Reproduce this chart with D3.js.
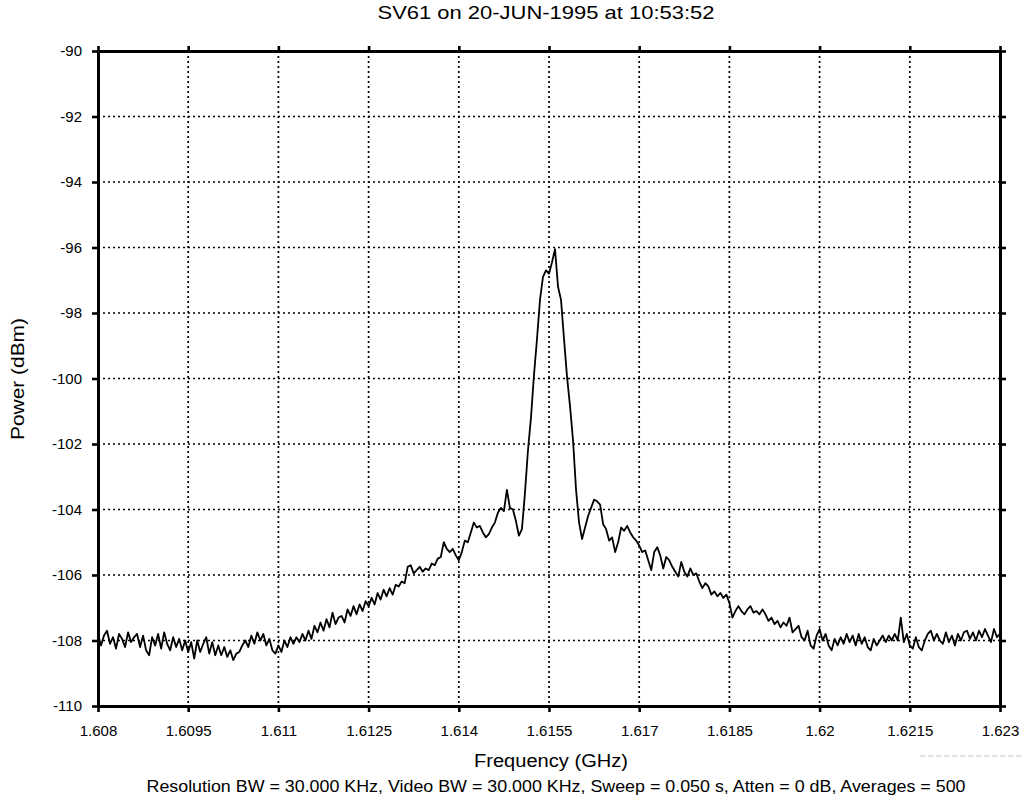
<!DOCTYPE html>
<html>
<head>
<meta charset="utf-8">
<script src="https://cdn.jsdelivr.net/npm/d3@7"></script>
<style>
  html, body { margin: 0; padding: 0; background: #fff; }
  svg text { font-family: "Liberation Sans", Arial, Helvetica, sans-serif; fill: #000; }
</style>
</head>
<body>
<svg id="chart" width="1023" height="797"></svg>
<script>
// ---- data ----
const titleText = "SV61 on 20-JUN-1995 at 10:53:52";
const xAxisTitle = "Frequency (GHz)";
const yAxisTitle = "Power (dBm)";
const noteText = "Resolution BW = 30.000 KHz, Video BW = 30.000 KHz, Sweep = 0.050 s, Atten = 0 dB, Averages = 500";

const xTickValues = [1.608, 1.6095, 1.611, 1.6125, 1.614, 1.6155, 1.617, 1.6185, 1.62, 1.6215, 1.623];
const xTickLabels = ["1.608", "1.6095", "1.611", "1.6125", "1.614", "1.6155", "1.617", "1.6185", "1.62", "1.6215", "1.623"];
const yTickValues = [-90, -92, -94, -96, -98, -100, -102, -104, -106, -108, -110];
const yTickLabels = ["-90", "-92", "-94", "-96", "-98", "-100", "-102", "-104", "-106", "-108", "-110"];

// sweep: start frequency and point spacing (GHz)
const freqStart = 1.608;
const freqStep = 0.00005;

// measured power per sweep point (dBm)
const powerDbm = [
  -107.8, -108.15, -107.85, -107.7, -108.1, -107.9, -108.25, -107.8, -107.95, -108.2,
  -107.75, -108.05, -107.9, -107.8, -108.2, -107.85, -108.3, -108.45, -107.9, -108.15,
  -107.8, -108.25, -107.75, -108.1, -108.3, -107.9, -108.2, -107.95, -108.3, -108.0,
  -108.35, -108.05, -108.55, -108.0, -108.35, -108.1, -107.9, -108.4, -108.05, -108.45,
  -108.15, -108.45, -108.2, -108.5, -108.3, -108.6, -108.4, -108.35, -108.15, -108.0,
  -108.2, -107.85, -108.1, -107.75, -108.0, -107.8, -108.15, -107.95, -108.3, -108.4,
  -108.15, -108.35, -108.0, -108.2, -107.9, -108.1, -107.9, -108.05, -107.8, -108.0,
  -107.7, -107.95, -107.55, -107.75, -107.45, -107.7, -107.35, -107.6, -107.15, -107.5,
  -107.3, -107.25, -107.45, -107.05, -107.25, -106.95, -107.2, -106.9, -107.1, -106.8,
  -106.95, -106.7, -106.9, -106.55, -106.75, -106.45, -106.65, -106.4, -106.6, -106.3,
  -106.35, -106.2, -106.25, -105.75, -105.7, -105.95, -105.85, -105.75, -105.9, -105.8,
  -105.85, -105.65, -105.7, -105.5, -105.45, -105.0, -105.2, -105.3, -105.2, -105.4,
  -105.55, -105.3, -104.95, -105.0, -104.7, -104.4, -104.55, -104.5, -104.7, -104.85,
  -104.75, -104.55, -104.4, -104.1, -103.95, -104.05, -103.4, -103.95, -104.0, -104.35,
  -104.8, -104.6, -103.5, -102.2, -101.2, -99.9, -98.8, -97.6, -96.9, -96.7,
  -96.8, -96.45, -96.05, -97.2, -97.6, -98.8, -99.95, -100.85, -101.9, -103.4,
  -104.4, -104.9, -104.55, -104.2, -103.95, -103.7, -103.75, -103.85, -104.45, -104.6,
  -104.95, -104.85, -105.3, -105.0, -104.55, -104.65, -104.5, -104.7, -104.85, -104.95,
  -105.1, -105.3, -105.25, -105.55, -105.85, -105.3, -105.15, -105.4, -105.8, -105.45,
  -105.55, -105.75, -105.9, -106.05, -105.6, -105.9, -106.05, -105.8, -106.0, -105.95,
  -106.2, -106.4, -106.25, -106.35, -106.6, -106.5, -106.65, -106.55, -106.7, -106.6,
  -106.85, -107.3, -107.1, -106.95, -107.1, -107.2, -107.05, -106.95, -107.15, -107.1,
  -107.2, -107.05, -107.2, -107.4, -107.3, -107.5, -107.4, -107.6, -107.45, -107.55,
  -107.3, -107.75, -107.65, -107.55, -107.9, -108.0, -107.7, -108.15, -108.25, -107.85,
  -107.65, -108.0, -107.8, -108.15, -108.3, -107.95, -108.15, -107.9, -108.1, -107.8,
  -108.05, -107.85, -108.15, -107.8, -108.1, -107.9, -108.2, -108.3, -107.95, -108.15,
  -108.0, -107.85, -108.05, -107.85, -108.0, -107.8, -108.0, -107.3, -108.05, -107.8,
  -108.15, -108.25, -107.9, -108.2, -108.3, -108.0, -107.8, -107.7, -108.0, -107.8,
  -108.0, -108.1, -107.75, -108.05, -107.85, -108.15, -107.8, -108.0, -107.75, -107.7,
  -107.95, -107.75, -108.0, -107.7, -107.9, -107.65, -107.85, -108.05, -107.65, -107.9, -107.8
];

// ---- layout ----
const plot = { left: 98, right: 1000, top: 51, bottom: 706 };
const svg = d3.select("#chart");

const x = d3.scaleLinear().domain([1.608, 1.623]).range([plot.left, plot.right]);
const y = d3.scaleLinear().domain([-110, -90]).range([plot.bottom, plot.top]);

const points = powerDbm.map((v, i) => ({ f: freqStart + i * freqStep, p: v }));

// grid (dotted)
const grid = svg.append("g").attr("class", "grid");
grid.selectAll("line.vx").data(xTickValues.slice(1, -1)).enter().append("line")
  .attr("x1", d => x(d)).attr("x2", d => x(d))
  .attr("y1", plot.top).attr("y2", plot.bottom)
  .attr("stroke", "#000").attr("stroke-width", 1.7).attr("stroke-dasharray", "2,3");
grid.selectAll("line.hy").data(yTickValues.slice(1, -1)).enter().append("line")
  .attr("x1", plot.left).attr("x2", plot.right)
  .attr("y1", d => y(d)).attr("y2", d => y(d))
  .attr("stroke", "#000").attr("stroke-width", 1.7).attr("stroke-dasharray", "2,3");

// trace
const line = d3.line().x(d => x(d.f)).y(d => y(d.p));
svg.append("path").datum(points)
  .attr("d", line)
  .attr("fill", "none")
  .attr("stroke", "#000")
  .attr("stroke-width", 1.8)
  .attr("stroke-linejoin", "round");

// axes
const fmtX = (d) => xTickLabels[xTickValues.indexOf(d)];
const fmtY = (d) => yTickLabels[yTickValues.indexOf(d)];

const axB = d3.axisBottom(x).tickValues(xTickValues).tickFormat(fmtX).tickSize(6).tickSizeOuter(0).tickPadding(13);
const axT = d3.axisTop(x).tickValues(xTickValues).tickFormat("").tickSize(5).tickSizeOuter(0);
const axL = d3.axisLeft(y).tickValues(yTickValues).tickFormat(fmtY).tickSize(6).tickSizeOuter(0).tickPadding(10);
const axR = d3.axisRight(y).tickValues(yTickValues).tickFormat("").tickSize(6).tickSizeOuter(0);

function styleAxis(g) {
  g.select(".domain").attr("stroke", "#000").attr("stroke-width", 3);
  g.selectAll(".tick line").attr("stroke", "#000").attr("stroke-width", 2.6);
  g.selectAll(".tick text").attr("fill", "#000")
    .style("font-family", '"Liberation Sans", Arial, Helvetica, sans-serif')
    .style("font-size", "15px");
}
svg.append("g").attr("transform", `translate(0,${plot.bottom})`).call(axB).call(styleAxis);
svg.append("g").attr("transform", `translate(0,${plot.top})`).call(axT).call(styleAxis);
svg.append("g").attr("transform", `translate(${plot.left},0)`).call(axL).call(styleAxis);
svg.append("g").attr("transform", `translate(${plot.right},0)`).call(axR).call(styleAxis);

// titles (widths matched to the reference print)
svg.append("text").attr("x", 546).attr("y", 19).attr("text-anchor", "middle")
  .style("font-size", "19px").attr("textLength", 337).attr("lengthAdjust", "spacingAndGlyphs").text(titleText);
svg.append("text").attr("x", 551).attr("y", 767).attr("text-anchor", "middle")
  .style("font-size", "18px").attr("textLength", 154).attr("lengthAdjust", "spacingAndGlyphs").text(xAxisTitle);
svg.append("text").attr("transform", "translate(24,379) rotate(-90)").attr("text-anchor", "middle")
  .style("font-size", "18px").attr("textLength", 122).attr("lengthAdjust", "spacingAndGlyphs").text(yAxisTitle);
svg.append("text").attr("x", 556).attr("y", 792).attr("text-anchor", "middle")
  .style("font-size", "17px").attr("textLength", 819).attr("lengthAdjust", "spacingAndGlyphs").text(noteText);

// faint scan rule at lower right
svg.append("line").attr("x1", 920).attr("x2", 1023).attr("y1", 756).attr("y2", 756)
  .attr("stroke", "#c8c8c8").attr("stroke-width", 1).attr("stroke-dasharray", "6,2");
</script>
</body>
</html>
